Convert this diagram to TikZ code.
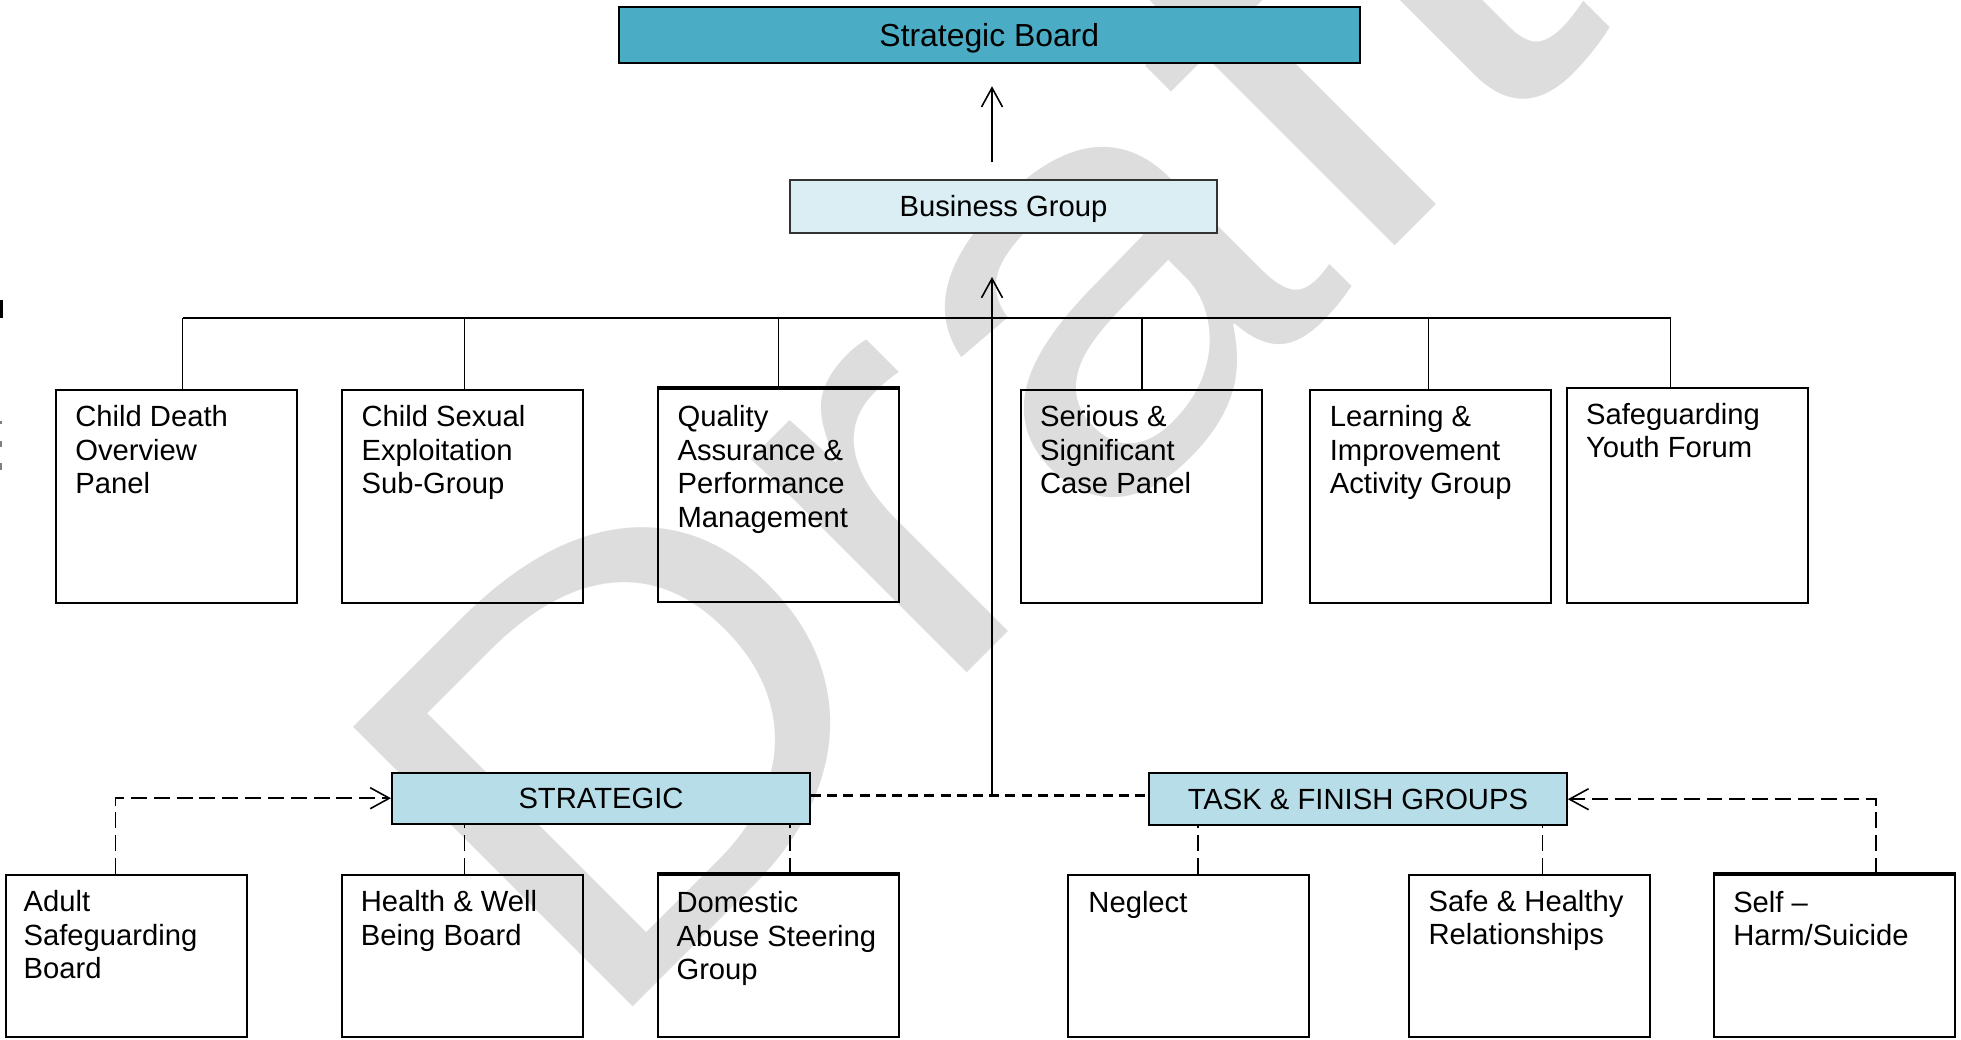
\documentclass[tikz,border=0pt]{standalone}
\usepackage{fontspec}
\setmainfont{Liberation Sans}
\usetikzlibrary{arrows.meta,calc}

% one drawing unit
\def\pxu{0.3766pt}

% multi-line box caption, its baseline being that of the first line
\newcommand{\boxlines}[1]{\parbox[t]{95pt}{\raggedright #1}}

\definecolor{boardfill}{RGB}{75,172,198}
\definecolor{bizfill}{RGB}{218,238,243}
\definecolor{groupfill}{RGB}{183,221,232}
\definecolor{wmgrey}{RGB}{221,221,221}

\tikzset{
  box/.style={draw=black, line width=0.75pt, minimum width=241*\pxu, inner sep=0pt},
  toprow/.style={box, minimum height=213*\pxu},
  botrow/.style={box, minimum height=161.7*\pxu},
  boxtext/.style={anchor=base west, inner sep=0pt,
                  font=\fontsize{11}{12.65}\selectfont},
  labelbox/.style={draw=black, line width=0.75pt, inner sep=0pt,
                   font=\fontsize{11}{13}\selectfont, text height=7.9pt, text depth=0pt},
  boardbox/.style={labelbox, line width=0.9pt, fill=boardfill,
                   font=\fontsize{12}{14}\selectfont, text height=8.6pt},
  conn/.style={line width=0.6pt},
  linkdash/.style={line width=0.6pt, dash pattern=on 6pt off 2.6pt},
  middash/.style={line width=0.9pt, dash pattern=on 3.8pt off 2.3pt},
  wmark/.style={anchor=base west, inner sep=0pt, rotate=45, xscale=1.158,
                text=wmgrey, font=\fontsize{216.5}{216.5}\selectfont},
  >={Straight Barb[length=7.2pt,width=7.9pt]}
}

\begin{document}
\begin{tikzpicture}[x=\pxu, y=-\pxu]
\useasboundingbox (0,0) rectangle (1961,1039);

% background watermark
\node[wmark] (wm) at (594.5,1046.2) {Draft};

% marks on the left page edge
\fill[black] (0,300) rectangle (3,318);
\fill[gray] (0,421) rectangle (2,424);
\fill[gray] (0,441) rectangle (2,447);
\fill[gray] (0,463) rectangle (2,470);

% top of the hierarchy
\node[boardbox, minimum width=741*\pxu, minimum height=56.3*\pxu] (board) at (989.3,34.85) {Strategic Board};
\node[labelbox, fill=bizfill, draw=black!80, minimum width=427*\pxu, minimum height=53*\pxu] (business) at (1003.5,206.5) {Business Group};

% sub-groups reporting to the business group
\node[toprow] (cdop) at (176.3,496.5) {};
\node[toprow] (cse) at (462.5,496.5) {};
\node[toprow] (qa) at (778.5,495.5) {};
\node[toprow] (serious) at (1141,496.5) {};
\node[toprow] (learning) at (1430.8,496.5) {};
\node[box, minimum height=215.3*\pxu] (youth) at (1687,495.4) {};
\draw[line width=1.2pt] (qa.north west) -- (qa.north east);

\node[boxtext] (cdop-t) at ($(cdop.north west)+(20,37.5)$) {\boxlines{Child Death\\Overview\\Panel}};
\node[boxtext] (cse-t) at ($(cse.north west)+(20,37.5)$) {\boxlines{Child Sexual\\Exploitation\\Sub-Group}};
\node[boxtext] (qa-t) at ($(qa.north west)+(20,38.5)$) {\boxlines{Quality\\Assurance \&\\Performance\\Management}};
\node[boxtext] (serious-t) at ($(serious.north west)+(20,37.5)$) {\boxlines{Serious \&\\Significant\\Case Panel}};
\node[boxtext] (learning-t) at ($(learning.north west)+(20,37.5)$) {\boxlines{Learning \&\\Improvement\\Activity Group}};
\node[boxtext] (youth-t) at ($(youth.north west)+(20,37.5)$) {\boxlines{Safeguarding\\Youth Forum}};

% group headers
\node[labelbox, fill=groupfill, minimum width=418*\pxu, minimum height=51*\pxu] (strategic) at (601,798.2) {STRATEGIC};
\node[labelbox, fill=groupfill, minimum width=417.8*\pxu, minimum height=51.6*\pxu] (task) at (1357.9,799.2) {TASK \& FINISH GROUPS};

% partner boards and task groups
\node[botrow] (adult) at (126.6,955.85) {};
\node[botrow] (health) at (462.75,955.85) {};
\node[botrow] (domestic) at (778.5,955.85) {};
\node[botrow] (neglect) at (1188.4,955.85) {};
\node[botrow] (safe) at (1529.1,955.85) {};
\node[botrow] (selfharm) at (1834.6,955.85) {};
\draw[line width=1.2pt] (domestic.north west) -- (domestic.north east);
\draw[line width=1.2pt] (selfharm.north west) -- (selfharm.north east);

\node[boxtext] (adult-t) at ($(adult.north west)+(18,37.5)$) {\boxlines{Adult\\Safeguarding\\Board}};
\node[boxtext] (health-t) at ($(health.north west)+(19,37.5)$) {\boxlines{Health \& Well\\Being Board}};
\node[boxtext] (domestic-t) at ($(domestic.north west)+(19,38.5)$) {\boxlines{Domestic\\Abuse Steering\\Group}};
\node[boxtext] (neglect-t) at ($(neglect.north west)+(21,38)$) {\boxlines{Neglect}};
\node[boxtext] (safe-t) at ($(safe.north west)+(20.5,37)$) {\boxlines{Safe \& Healthy\\Relationships}};
\node[boxtext] (selfharm-t) at ($(selfharm.north west)+(19.6,38)$) {\boxlines{Self –\\Harm/Suicide}};

% reporting lines up the hierarchy
\coordinate (bus) at (0,318);
\coordinate (hub) at (992,795.5);
\draw[conn,->, shorten <=17*\pxu, shorten >=22*\pxu] (hub |- business.north) -- (hub |- board.south);
\draw[conn,->, shorten >=43*\pxu] (hub) -- (hub |- business.south);

\foreach \n/\dx in {cdop/6.3, cse/1.8, qa/0.1, serious/1, learning/-2.2, youth/-16.4}{
  \path ($(\n.north)+(\dx,0)$) coordinate (d-\n);
  \draw[conn] (d-\n) -- (d-\n |- bus);
}
\draw[conn] (d-cdop |- bus) -- (d-youth |- bus);

% dashed links between the groups
\draw[middash] (hub -| strategic.east) -- (hub -| task.west);

\path ($(adult.north)+(-11.2,0)$) coordinate (l-adult);
\path ($(selfharm.north)+(41.4,0)$) coordinate (l-selfharm);
\draw[linkdash,->] (l-adult) |- (strategic.west);
\draw[linkdash,->] (l-selfharm) |- (task.east);

\foreach \n/\dx/\g in {health/1.6/strategic, domestic/11.5/strategic, neglect/9.6/task, safe/13.4/task}{
  \path ($(\n.north)+(\dx,0)$) coordinate (l-\n);
  \draw[linkdash] (l-\n) -- (l-\n |- \g.south);
}
\end{tikzpicture}
\end{document}
